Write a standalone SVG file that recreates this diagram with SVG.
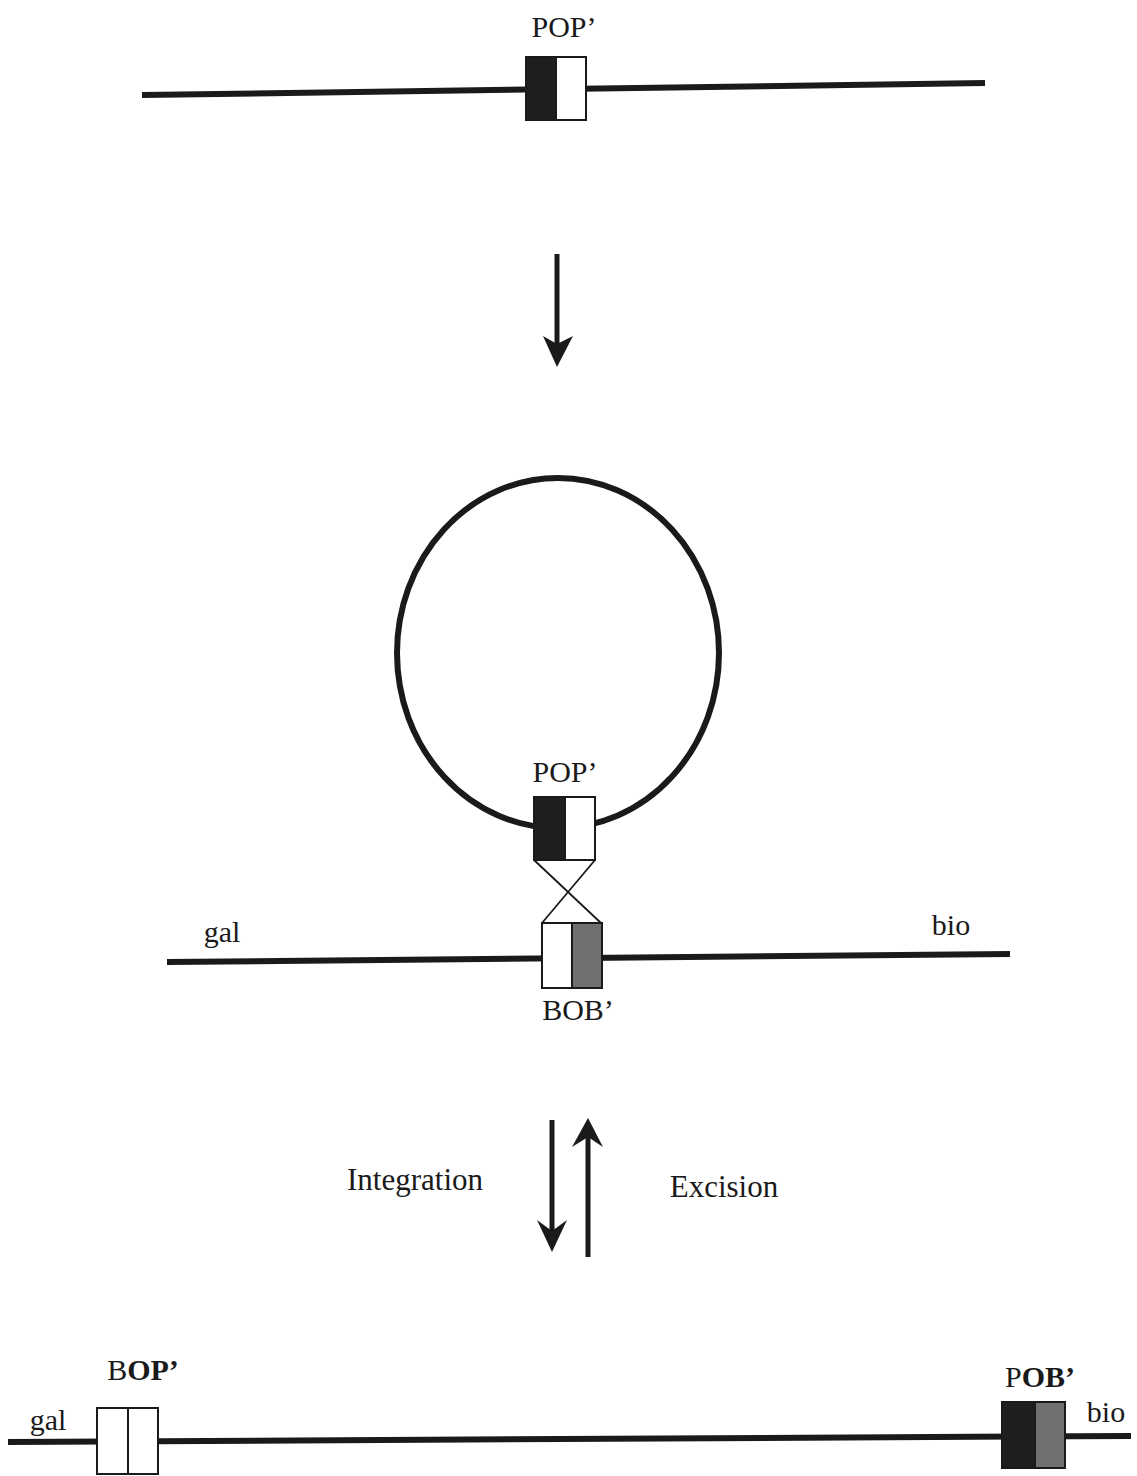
<svg xmlns="http://www.w3.org/2000/svg" width="1137" height="1476" viewBox="0 0 1137 1476">
<style>
.dna{stroke:#1a1a1a;stroke-width:6;fill:none;stroke-linecap:butt}
.box{stroke:#1a1a1a;stroke-width:2}
.blk{fill:#1e1e1e}
.wht{fill:#ffffff}
.gry{fill:#707070}
.lbl{font-family:"Liberation Serif","Times New Roman",serif;font-size:30px;fill:#1a1a1a}
.b{font-weight:bold}
.shaft{stroke:#1a1a1a;stroke-width:5;fill:none}
.head{fill:#1a1a1a}
.thin{stroke:#1a1a1a;stroke-width:1.8;fill:none}
</style>
<rect width="1137" height="1476" fill="#ffffff"/>

<g id="top-dna">
<line class="dna" x1="142" y1="95" x2="985" y2="83"/>
<rect class="box blk" x="526" y="57" width="30" height="63"/>
<rect class="box wht" x="556" y="57" width="30" height="63"/>
<text class="lbl" x="564" y="37" text-anchor="middle">POP’</text>
</g>

<g id="circle-dna">
<ellipse class="dna" cx="558" cy="653" rx="161" ry="175"/>
<rect class="box blk" x="534" y="797" width="31" height="63"/>
<rect class="box wht" x="565" y="797" width="30" height="63"/>
<text class="lbl" x="565" y="782" text-anchor="middle">POP’</text>
</g>

<g id="chromosome">
<line class="dna" x1="167" y1="962" x2="1010" y2="954"/>
<rect class="box wht" x="542" y="923" width="30" height="65"/>
<rect class="box gry" x="572" y="923" width="30" height="65"/>
<text class="lbl" x="222" y="942" text-anchor="middle">gal</text>
<text class="lbl" x="951" y="935" text-anchor="middle">bio</text>
<text class="lbl" x="578" y="1020" text-anchor="middle">BOB’</text>
</g>

<g id="integrated">
<line class="dna" x1="8" y1="1442" x2="1131" y2="1436"/>
<rect class="box wht" x="97" y="1408" width="31" height="66"/>
<rect class="box wht" x="128" y="1408" width="30" height="66"/>
<rect class="box blk" x="1002" y="1402" width="33" height="66"/>
<rect class="box gry" x="1035" y="1402" width="30" height="66"/>
<text class="lbl" x="48" y="1430" text-anchor="middle">gal</text>
<text class="lbl" x="1106" y="1422" text-anchor="middle">bio</text>
<text class="lbl" x="143" y="1380" text-anchor="middle">B<tspan class="b">OP’</tspan></text>
<text class="lbl" x="1040" y="1387" text-anchor="middle">P<tspan class="b">OB’</tspan></text>
</g>

<g id="connectors">
<line class="shaft" x1="557" y1="254" x2="557" y2="345"/>
<polygon class="head" points="557,367 543,336 557,344 573,336"/>
<polyline class="thin" points="534,860 601,923"/>
<polyline class="thin" points="595,860 542,923"/>
<line class="shaft" x1="552" y1="1120" x2="552" y2="1235"/>
<polygon class="head" points="552,1252 537,1220 552,1231 567,1220"/>
<line class="shaft" x1="588" y1="1257" x2="588" y2="1135"/>
<polygon class="head" points="588,1118 572,1147 588,1137 603,1147"/>
</g>

<g id="labels">
<text class="lbl" x="415" y="1190" text-anchor="middle" font-size="31" style="font-size:31px">Integration</text>
<text class="lbl" x="724" y="1197" text-anchor="middle" style="font-size:31px">Excision</text>
</g>
</svg>
